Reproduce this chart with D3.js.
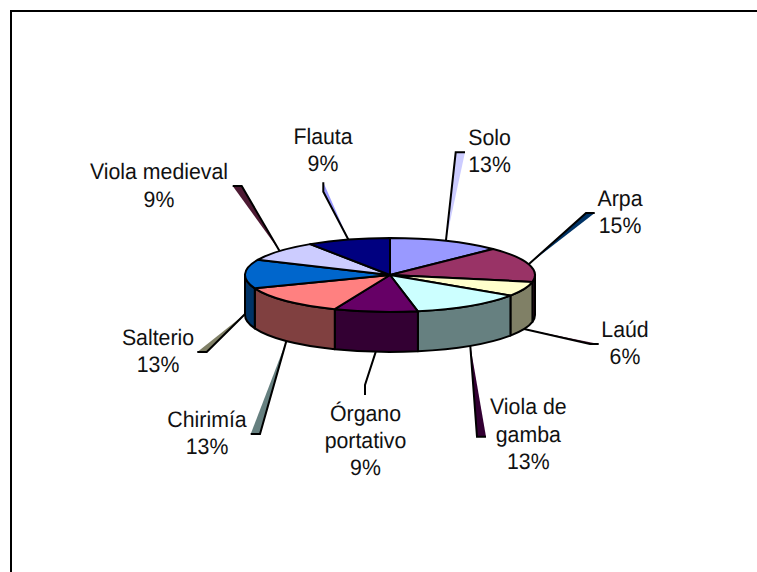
<!DOCTYPE html>
<html>
<head>
<meta charset="utf-8">
<script src="https://cdn.jsdelivr.net/npm/d3@7"></script>
<style>
html,body{margin:0;padding:0;background:#fff;overflow:hidden}
svg{display:block}
text{font-family:"Liberation Sans",Arial,sans-serif;font-size:21.3px;fill:#111;text-anchor:middle;text-rendering:geometricPrecision}
</style>
</head>
<body>
<script>
// --- data ---
const categories = ["Solo","Arpa","Laúd","Viola de gamba","Órgano portativo","Chirimía","Salterio","Viola medieval","Flauta"];
const values = [12.6,15.4,6.4,12.52,9.3,12.9,12.6,9.0,9.28];
const labelLines = [["Solo"],["Arpa"],["Laúd"],["Viola de","gamba"],["Órgano","portativo"],["Chirimía"],["Salterio"],["Viola medieval"],["Flauta"]];

// --- styles ---
const topColors  = ["#9999FF","#993366","#FFFFCC","#CCFFFF","#660066","#FF8080","#0066CC","#CCCCFF","#000080"];
const sideColors = ["#4D4D80","#4D1A33","#808066","#668080","#330033","#804040","#003366","#666680","#000040"];
const sliverColors = ["#CCCCFF","#003366","#4D1A33","#330033","none","#668080","#808066","#4D1A33","#9999FF"];

// --- layout (label anchors and leader bends, page pixels) ---
const labelCentre = [489.5,620,625,528.3,365.5,207,158,159,323];
const labelBaseline = [145,206,336.7,414.3,420.7,426.7,345,179.3,143.5];
const leaderElbow = [[455.7,152.3],[586,213],[590,344],[477,436.7],[365,385],[260,434],[206.7,352],[241.7,186],[323.3,191.7]];
const leaderEnd   = [[465,152.3],[594.7,213],[598.7,344],[486,436.7],[365,395],[250.7,434],[197.3,352],[232.7,186],[323.3,182.3]];

const W = 757, H = 572, LH = 27.3, textStretch = 1.05;
const cx = 390, cy = 275, rx = 145, ry = 37, depth = 40;
const k = ry / rx, dz = depth / k;

const svg = d3.select("body").append("svg").attr("width",W).attr("height",H);

// frame (top and left edges only are inside the picture)
svg.append("path").attr("d",`M11,${H}V11H${W}`).attr("fill","none").attr("stroke","#000").attr("stroke-width",2);

const pie = d3.pie().sort(null).value(d=>d);
const slices = pie(values);
const mid = d => (d.startAngle + d.endAngle)/2;
const onRim = a => {
  const front = Math.cos(a) < 0.1;
  return [cx + rx*Math.sin(a), cy - ry*Math.cos(a) + (front ? depth : 0)];
};

// leaders
const leaders = svg.append("g");
leaders.selectAll("path.sliver").data(slices).join("path").attr("class","sliver")
  .attr("d",(d,i)=>d3.line()([onRim(mid(d)),leaderElbow[i],leaderEnd[i]])+"Z")
  .attr("fill",(d,i)=>sliverColors[i]);
leaders.selectAll("path.line").data(slices).join("path").attr("class","line")
  .attr("d",(d,i)=>d3.line()([onRim(mid(d)),leaderElbow[i],leaderEnd[i]]))
  .attr("fill","none").attr("stroke","#000").attr("stroke-width",2);

// pie body, drawn in a circle space flattened into an ellipse
const disc = svg.append("g").attr("transform",`translate(${cx},${cy}) scale(1,${k})`);
const wallPath = d => {
  const a0 = Math.max(d.startAngle, Math.PI/2), a1 = Math.min(d.endAngle, 3*Math.PI/2);
  if (a1 <= a0) return null;
  const p = d3.path();
  p.arc(0,0,rx,a0-Math.PI/2,a1-Math.PI/2);
  p.lineTo(rx*Math.sin(a1), -rx*Math.cos(a1)+dz);
  p.arc(0,dz,rx,a1-Math.PI/2,a0-Math.PI/2,true);
  p.closePath();
  return p.toString();
};
const sty = s => s.attr("stroke","#000").attr("stroke-width",2).attr("stroke-linejoin","round").attr("vector-effect","non-scaling-stroke");
disc.selectAll("path.wall").data(slices.filter(d=>wallPath(d))).join("path").attr("class","wall")
  .attr("d",wallPath).attr("fill",d=>sideColors[d.index]).call(sty);
const arc = d3.arc().innerRadius(0).outerRadius(rx);
disc.selectAll("path.top").data(slices).join("path").attr("class","top")
  .attr("d",arc).attr("fill",d=>topColors[d.index]).call(sty);

// labels
const total = d3.sum(values);
const lab = svg.append("g").selectAll("text").data(categories).join("text")
  .attr("transform",(d,i)=>`translate(${labelCentre[i]},${labelBaseline[i]}) scale(1,${textStretch})`);
lab.selectAll("tspan").data((d,i)=>[...labelLines[i],Math.round(values[i]/total*100)+"%"]).join("tspan")
  .attr("x",0)
  .attr("dy",(d,i)=>i?LH/textStretch:0).text(d=>d);
</script>
</body>
</html>
